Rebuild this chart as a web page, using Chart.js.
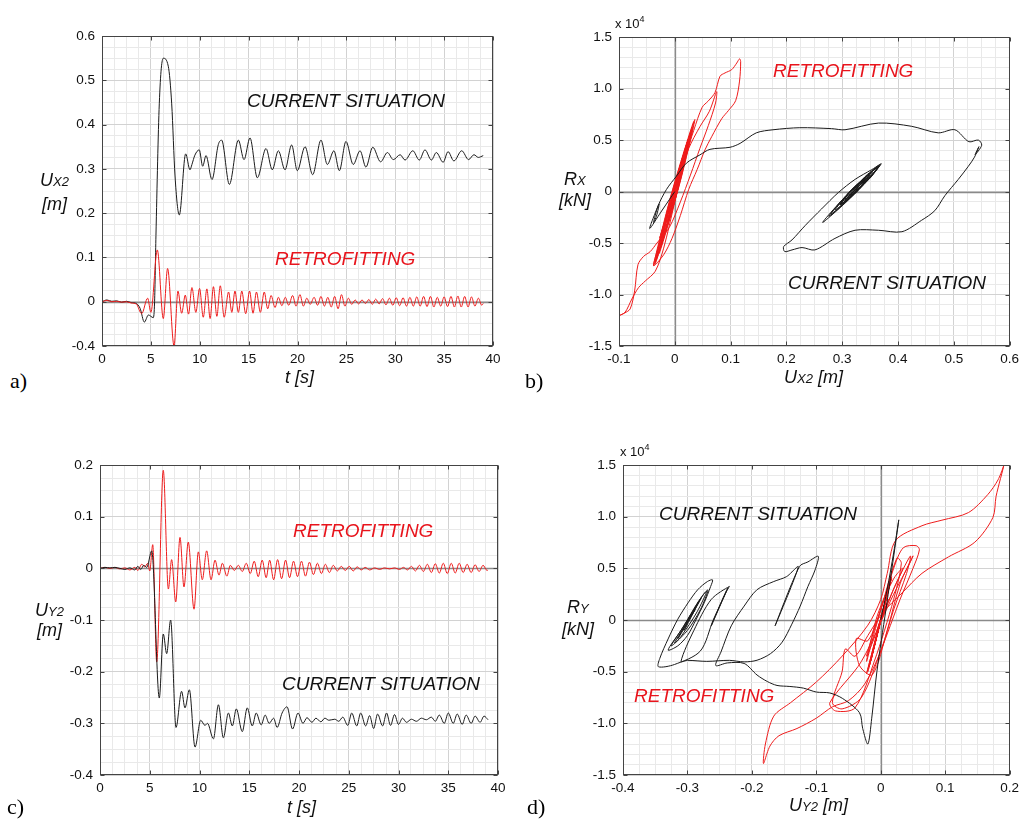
<!DOCTYPE html>
<html>
<head>
<meta charset="utf-8">
<script src="https://cdn.jsdelivr.net/npm/chart.js@4.4.0/dist/chart.umd.min.js"></script>
<style>
body{margin:0;background:#fff;width:1024px;height:823px;position:relative;overflow:hidden;font-family:"Liberation Sans",Arial,sans-serif;}
canvas{position:absolute;}
.t{position:absolute;white-space:nowrap;line-height:1;font-style:italic;color:#111;}
.note{font-size:19px;}
.red{color:#e8141c;}
.ax{font-size:18px;}
.ax small{font-size:13px;}
.let{position:absolute;font-family:"Liberation Serif","Times New Roman",serif;font-size:22px;line-height:1;color:#000;}
.mul{position:absolute;font-size:13px;line-height:1;color:#111;}
.mul sup{font-size:9px;vertical-align:6px;}
</style>
</head>
<body>
<canvas id="ca"></canvas>
<canvas id="cb"></canvas>
<canvas id="cc"></canvas>
<canvas id="cd"></canvas>

<div class="t note" style="left:247px;top:91px">CURRENT SITUATION</div>
<div class="t note red" style="left:275px;top:249px">RETROFITTING</div>
<div class="t note red" style="left:773px;top:61px">RETROFITTING</div>
<div class="t note" style="left:788px;top:273px">CURRENT SITUATION</div>
<div class="t note red" style="left:293px;top:521px">RETROFITTING</div>
<div class="t note" style="left:282px;top:674px">CURRENT SITUATION</div>
<div class="t note" style="left:659px;top:504px">CURRENT SITUATION</div>
<div class="t note red" style="left:634px;top:686px">RETROFITTING</div>

<div class="t ax" style="left:40px;top:171px">U<small>X2</small></div>
<div class="t ax" style="left:42px;top:195px">[m]</div>
<div class="t ax" style="left:285px;top:368px">t [s]</div>
<div class="t ax" style="left:564px;top:170px">R<small>X</small></div>
<div class="t ax" style="left:559px;top:191px">[kN]</div>
<div class="t ax" style="left:784px;top:368px">U<small>X2</small> [m]</div>
<div class="t ax" style="left:35px;top:601px">U<small>Y2</small></div>
<div class="t ax" style="left:37px;top:621px">[m]</div>
<div class="t ax" style="left:287px;top:798px">t [s]</div>
<div class="t ax" style="left:567px;top:598px">R<small>Y</small></div>
<div class="t ax" style="left:562px;top:620px">[kN]</div>
<div class="t ax" style="left:789px;top:796px">U<small>Y2</small> [m]</div>

<div class="mul" style="left:615px;top:15px">x 10<sup>4</sup></div>
<div class="mul" style="left:620px;top:443px">x 10<sup>4</sup></div>

<div class="let" style="left:10px;top:370px">a)</div>
<div class="let" style="left:525px;top:370px">b)</div>
<div class="let" style="left:7px;top:796px">c)</div>
<div class="let" style="left:527px;top:796px">d)</div>

<script>
// ---- tick values and labels ----
const timeTicks = [0, 5, 10, 15, 20, 25, 30, 35, 40];
const timeLabels = ['0', '5', '10', '15', '20', '25', '30', '35', '40'];
const aYTicks = [-0.1, 0, 0.1, 0.2, 0.3, 0.4, 0.5, 0.6];
const aYLabels = ['-0.4', '0', '0.1', '0.2', '0.3', '0.4', '0.5', '0.6'];
const bXTicks = [-0.1, 0, 0.1, 0.2, 0.3, 0.4, 0.5, 0.6];
const bXLabels = ['-0.1', '0', '0.1', '0.2', '0.3', '0.4', '0.5', '0.6'];
const forceTicks = [-1.5, -1, -0.5, 0, 0.5, 1, 1.5];
const forceLabels = ['-1.5', '-1.0', '-0.5', '0', '0.5', '1.0', '1.5'];
const cYTicks = [-0.4, -0.3, -0.2, -0.1, 0, 0.1, 0.2];
const cYLabels = ['-0.4', '-0.3', '-0.2', '-0.1', '0', '0.1', '0.2'];
const dXTicks = [-0.4, -0.3, -0.2, -0.1, 0, 0.1, 0.2];
const dXLabels = ['-0.4', '-0.3', '-0.2', '-0.1', '0', '0.1', '0.2'];

// ---- a) Ux2 time history [s, m] ----
const aCurT = [0,0.5,1,1.5,2,2.5,3,3.5,3.9,4.33,4.75,5.25,5.38,5.52,5.86,6.27,6.78,7.13,7.47,7.91,8.56,9.0,9.2,9.5,9.95,10.3,10.64,11.25,11.9,12.24,13.03,13.95,14.53,15.14,15.89,16.78,17.42,18.04,18.72,19.4,19.98,20.77,21.55,22.4,23.05,23.73,24.28,24.96,25.7,26.4,27.0,27.7,28.5,29.2,29.8,30.5,31.0,31.8,32.46,33.04,33.7,34.2,34.9,35.4,36.0,36.8,37.5,38.05,38.5,39.0];
const aCurU = [0,0.004,0.001,0.002,-0.001,0.001,-0.002,-0.004,-0.015,-0.046,-0.030,-0.036,0.0,0.15,0.447,0.55,0.532,0.447,0.284,0.196,0.334,0.298,0.31,0.331,0.343,0.306,0.33,0.276,0.355,0.365,0.265,0.365,0.321,0.37,0.28,0.346,0.298,0.341,0.298,0.354,0.296,0.35,0.287,0.365,0.31,0.341,0.296,0.362,0.31,0.341,0.304,0.349,0.316,0.337,0.321,0.332,0.32,0.341,0.32,0.343,0.32,0.337,0.315,0.339,0.318,0.341,0.321,0.332,0.326,0.33];
const aRetT = [0,0.5,1,1.5,2,2.5,3,3.5,4.06,4.67,5.0,5.66,6.27,6.71,7.37,7.77,8.15,8.52,8.85,9.2,9.6,9.98,10.36,10.73,11.06,11.4,11.75,12.1,12.5,12.95,13.28,13.6,13.95,14.3,14.7,15.1,15.45,15.8,16.2,16.6,16.95,17.3,17.7,18.05,18.4,18.75,19.1,19.5,19.85,20.25,20.6,20.95,21.3,21.7,22.05,22.4,22.75,23.1,23.45,23.8,24.15,24.5,24.85,25.2,25.55,25.9,26.25,26.6,26.95,27.3,27.65,28.0,28.35,28.7,29.05,29.4,29.75,30.1,30.45,30.8,31.15,31.5,31.85,32.2,32.55,32.9,33.25,33.6,33.95,34.3,34.65,35.0,35.35,35.7,36.05,36.4,36.75,37.1,37.45,37.8,38.15,38.5,38.85,39.0];
const aRetU = [0,0.003,0,0.001,-0.001,0,-0.003,-0.005,-0.027,0.008,-0.024,0.117,-0.038,0.075,-0.1,0.024,-0.026,0.015,-0.028,0.032,-0.024,0.03,-0.035,0.029,-0.038,0.034,-0.033,0.036,-0.035,0.022,-0.024,0.024,-0.024,0.024,-0.027,0.024,-0.026,0.022,-0.024,0.022,-0.016,0.014,-0.013,0.01,-0.009,0.01,-0.008,0.014,-0.01,0.016,-0.01,0.008,-0.006,0.01,-0.008,0.012,-0.01,0.01,-0.012,0.012,-0.016,0.016,-0.01,0.008,-0.006,0.004,-0.005,0.004,-0.004,0.005,-0.006,0.006,-0.005,0.007,-0.007,0.008,-0.008,0.009,-0.009,0.009,-0.01,0.01,-0.01,0.011,-0.01,0.012,-0.011,0.012,-0.012,0.01,-0.01,0.011,-0.011,0.012,-0.012,0.013,-0.012,0.012,-0.012,0.011,-0.01,0.008,-0.008,-0.004];

// ---- b) Rx [x1e4 kN] vs Ux2 [m] ----
const bCurU = [0,-0.01,-0.025,-0.045,-0.036,-0.028,-0.033,-0.038,-0.03,-0.015,0.003,0.021,0.045,0.063,0.099,0.117,0.146,0.176,0.224,0.281,0.305,0.365,0.424,0.472,0.502,0.527,0.544,0.55,0.538,0.545,0.537,0.526,0.508,0.484,0.466,0.442,0.407,0.365,0.323,0.287,0.251,0.228,0.21,0.197,0.195,0.21,0.234,0.263,0.293,0.323,0.353,0.368,
  0.339,0.298,0.315,0.343,0.33,0.306,0.312,0.33,0.309,0.276,0.314,0.365,0.321,0.265,0.309,0.365,0.349,0.321,0.34,0.37,0.331,0.28,0.307,0.346,0.328,0.298,0.314,0.341,0.325,0.298,0.32,0.354,0.331,0.296,0.317,0.35,0.324,0.287,0.32,0.365,0.343,0.31,0.322,0.341,0.324,0.296,0.323,0.362,0.342,0.31,0.341,0.304,0.349,0.316,0.337,0.321,0.332,0.325];
const bCurR = [0,-0.08,-0.2,-0.36,-0.22,-0.12,-0.24,-0.3,-0.14,0.02,0.15,0.277,0.356,0.41,0.43,0.468,0.57,0.6,0.62,0.611,0.6,0.665,0.634,0.57,0.6,0.484,0.5,0.45,0.357,0.436,0.334,0.245,0.118,-0.04,-0.185,-0.28,-0.39,-0.376,-0.376,-0.455,-0.567,-0.544,-0.567,-0.583,-0.535,-0.47,-0.328,-0.169,-0.01,0.118,0.213,0.26,
  0.07,-0.12,0.0,0.125,0.025,-0.076,-0.01,0.055,-0.09,-0.24,0.0,0.245,-0.03,-0.3,-0.03,0.245,0.125,0.005,0.14,0.27,0.025,-0.22,-0.04,0.14,0.01,-0.12,0.0,0.115,0.0,-0.12,0.03,0.185,0.03,-0.13,0.02,0.165,-0.01,-0.18,0.03,0.245,0.095,-0.055,0.03,0.115,-0.01,-0.13,0.05,0.23,0.09,-0.055,0.115,-0.087,0.158,-0.02,0.09,0.005,0.065,0.03];
const bRetU = [0,-0.012,-0.027,-0.01,0.008,-0.008,-0.024,-0.01,0.007,0.019,0.034,0.049,0.06,0.072,0.081,0.09,0.102,0.111,0.116,0.118,0.116,0.109,0.096,0.084,0.066,0.054,0.04,0.025,0.01,-0.005,-0.02,-0.038,-0.03,-0.015,0.005,0.025,0.045,0.062,0.075,0.073,0.06,0.045,0.028,0.01,-0.01,-0.032,-0.044,-0.056,-0.066,-0.072,-0.08,-0.09,-0.099,-0.089,-0.077,-0.065,-0.053,-0.035,-0.02,0.0,0.015,
  0.024,0.002,-0.026,-0.008,0.015,-0.003,-0.028,-0.002,0.032,0.008,-0.024,-0.001,0.03,0.0015,-0.035,-0.007,0.029,0.0,-0.038,-0.006,0.034,0.0045,-0.033,-0.0025,0.036,0.0045,-0.035,-0.0095,0.022,0.002,-0.024,-0.003,0.024,0.003,-0.024,-0.003,0.024,0.0015,-0.027,-0.0045,0.024,0.002,-0.026,-0.005,0.022,0.002,-0.024,-0.004,0.022,
  -0.016,0.014,-0.013,0.01,-0.009,0.01,-0.008,0.014,-0.01,0.016,-0.01,0.008,-0.006,0.005,-0.002];
const bRetR = [0,-0.2,-0.45,-0.15,0.15,-0.12,-0.42,-0.14,0.118,0.34,0.595,0.818,0.88,0.961,1.12,1.152,1.184,1.248,1.289,1.264,1.073,0.882,0.786,0.707,0.532,0.404,0.213,0.022,-0.232,-0.455,-0.614,-0.72,-0.55,-0.25,0.1,0.42,0.63,0.78,0.97,0.86,0.64,0.42,0.16,-0.1,-0.35,-0.5,-0.583,-0.63,-0.71,-0.965,-1.14,-1.18,-1.203,-1.172,-1.044,-0.933,-0.869,-0.774,-0.55,-0.1,0.25,
  0.45,-0.05,-0.55,-0.125,0.3,-0.15,-0.6,0.01,0.62,0.06,-0.5,0.05,0.6,-0.04,-0.68,-0.05,0.58,-0.07,-0.72,-0.02,0.68,0.01,-0.66,0.02,0.7,0.0,-0.7,-0.125,0.45,-0.025,-0.5,-0.01,0.48,-0.01,-0.5,0.0,0.5,-0.025,-0.55,-0.025,0.5,-0.025,-0.55,-0.05,0.45,-0.025,-0.5,-0.025,0.45,
  -0.35,0.3,-0.28,0.2,-0.2,0.22,-0.18,0.3,-0.2,0.32,-0.2,0.16,-0.14,0.1,-0.03];

// ---- c) Uy2 time history [s, m] ----
const cCurT = [0,0.5,1,1.5,2,2.5,3,3.5,3.8,4.1,4.4,4.7,5.2,5.96,6.36,6.7,7.1,7.64,8.2,8.54,8.98,9.55,10.12,10.55,10.8,11.4,11.9,12.4,12.9,13.3,13.7,14.3,14.8,15.3,15.7,16.2,16.6,17.0,17.45,17.8,18.3,18.8,19.35,19.9,20.4,20.8,21.3,21.7,22.2,22.6,23.0,23.6,24.0,24.4,24.9,25.3,25.8,26.2,26.7,27.1,27.5,27.9,28.4,28.8,29.2,29.6,30.0,30.4,30.8,31.3,31.8,32.3,32.8,33.3,33.7,34.1,34.6,35.0,35.5,35.9,36.4,36.8,37.3,37.7,38.2,38.6,39.0];
const cCurU = [0,0.002,0.001,0.002,0,-0.002,0.001,-0.003,0.004,-0.002,0.006,0.002,0.034,-0.251,-0.127,-0.165,-0.1,-0.308,-0.238,-0.27,-0.235,-0.346,-0.294,-0.304,-0.30,-0.33,-0.264,-0.328,-0.28,-0.305,-0.272,-0.316,-0.27,-0.305,-0.28,-0.303,-0.284,-0.30,-0.29,-0.308,-0.28,-0.268,-0.311,-0.28,-0.30,-0.289,-0.298,-0.29,-0.297,-0.29,-0.294,-0.292,-0.296,-0.288,-0.304,-0.28,-0.305,-0.28,-0.305,-0.285,-0.31,-0.282,-0.305,-0.28,-0.304,-0.283,-0.302,-0.29,-0.298,-0.292,-0.296,-0.29,-0.293,-0.288,-0.296,-0.284,-0.3,-0.28,-0.3,-0.282,-0.302,-0.284,-0.3,-0.286,-0.298,-0.286,-0.293];
const cRetT = [0,0.5,1,1.5,2,2.5,3,3.5,3.8,4.2,4.5,4.8,5.0,5.3,5.7,6.36,6.87,7.2,7.61,8.04,8.44,8.87,9.45,9.88,10.28,10.72,11.16,11.56,11.96,12.3,12.75,13.1,13.5,13.9,14.3,14.7,15.1,15.5,15.9,16.3,16.7,17.05,17.45,17.85,18.25,18.65,19.05,19.45,19.85,20.25,20.65,21.05,21.45,21.85,22.25,22.65,23.05,23.45,23.85,24.25,24.65,25.05,25.45,25.85,26.25,26.65,27.1,27.6,28.1,28.6,29.1,29.6,30.1,30.5,30.9,31.3,31.7,32.1,32.5,32.9,33.3,33.7,34.1,34.5,34.9,35.3,35.7,36.1,36.5,36.9,37.3,37.7,38.1,38.5,38.9,39.0];
const cRetU = [0,0.002,0,0.002,-0.001,0.001,-0.003,0.002,-0.004,0.008,0.003,0.01,-0.005,0.046,-0.181,0.19,-0.04,0.017,-0.065,0.06,-0.036,0.051,-0.079,0.032,-0.022,0.034,-0.022,0.016,-0.013,0.01,-0.015,0.006,-0.004,0.006,-0.006,0.01,-0.01,0.014,-0.016,0.016,-0.018,0.016,-0.022,0.017,-0.02,0.016,-0.018,0.014,-0.016,0.014,-0.015,0.012,-0.012,0.01,-0.01,0.008,-0.008,0.006,-0.005,0.004,-0.004,0.004,-0.005,0.003,-0.003,0.002,-0.003,0.001,-0.002,0.001,-0.001,0.001,-0.002,0.002,-0.003,0.004,-0.005,0.006,-0.006,0.008,-0.008,0.009,-0.009,0.01,-0.01,0.01,-0.009,0.01,-0.008,0.008,-0.008,0.007,-0.006,0.006,-0.004,-0.003];

// ---- d) Ry [x1e4 kN] vs Uy2 [m] ----
const dCurU = [0,0.01,0.02,0.028,0.022,0.008,-0.006,-0.014,-0.02,-0.028,-0.033,-0.059,-0.079,-0.1,-0.12,-0.141,-0.161,-0.176,-0.192,-0.212,-0.238,-0.256,
  -0.248,-0.232,-0.212,-0.192,-0.166,-0.146,-0.128,-0.164,-0.126,-0.113,-0.097,-0.102,-0.113,-0.125,-0.138,-0.153,-0.171,-0.192,-0.212,-0.235,-0.27,-0.3,-0.31,
  -0.29,-0.263,-0.235,-0.24,-0.263,-0.245,-0.237,-0.26,-0.28,-0.32,-0.345,
  -0.343,-0.33,-0.315,-0.299,-0.284,-0.269,-0.261,-0.264,-0.274,-0.287,-0.3,-0.315,-0.33,
  -0.31,-0.29,-0.275,-0.268,-0.28,-0.3,-0.325,-0.305,-0.283,-0.27,-0.285,-0.31,-0.32,-0.3,-0.278,-0.285,-0.305,-0.315,-0.295,-0.28,-0.29,-0.305,-0.298,-0.288,-0.295];
const dCurR = [0,0.3,0.65,0.97,0.7,0.1,-0.5,-0.95,-1.2,-1.05,-0.897,-0.76,-0.706,-0.697,-0.659,-0.643,-0.633,-0.595,-0.532,-0.42,-0.415,-0.44,
  -0.31,-0.056,0.135,0.294,0.373,0.421,0.516,-0.056,0.52,0.563,0.617,0.484,0.325,0.135,-0.04,-0.214,-0.325,-0.389,-0.405,-0.39,-0.4,-0.39,-0.4,
  -0.1,0.2,0.325,0.28,-0.056,0.2,0.31,0.0,-0.3,-0.43,-0.452,
  -0.373,-0.183,0.008,0.167,0.294,0.373,0.389,0.325,0.167,0.0,-0.15,-0.25,-0.29,
  -0.1,0.1,0.25,0.29,0.1,-0.1,-0.25,-0.05,0.18,0.28,0.08,-0.16,-0.22,-0.02,0.22,0.15,-0.08,-0.18,0.05,0.2,0.08,-0.1,0.0,0.1,0.03];
const dRetU = [0,0.008,-0.004,0.012,-0.006,0.02,0.046,0.04,0.02,0.0,-0.025,-0.05,-0.075,-0.1,-0.13,-0.158,-0.172,-0.182,-0.179,-0.166,-0.14,-0.1,-0.06,-0.02,0.0,0.01,0.023,0.064,0.095,0.136,0.166,0.182,0.191,0.179,0.174,0.146,0.105,0.064,0.033,0.003,-0.02,-0.04,
  -0.055,-0.06,-0.075,-0.06,-0.03,0.0,0.03,0.05,0.06,0.055,0.035,0.02,0.0,-0.02,-0.038,-0.033,-0.013,0.01,0.03,0.05,0.045,0.02,-0.03,-0.079,-0.07,-0.04,-0.01,0.02,0.032,0.025,0.0,-0.022,-0.005,0.02,0.034,0.02,-0.022,
  0.016,-0.013,0.01,-0.015,0.006,-0.004,0.006,-0.006,0.01,-0.01,0.014,-0.016,0.016,-0.018,0.016,-0.022,0.017,-0.02,0.016,-0.018,0.014,-0.016,0.012,-0.01,0.006,-0.004,0.002];
const dRetR = [0,0.12,-0.06,0.2,-0.1,0.3,0.62,0.45,0.1,-0.3,-0.62,-0.78,-0.84,-0.95,-1.05,-1.12,-1.22,-1.389,-1.2,-0.93,-0.8,-0.6,-0.35,-0.05,0.2,0.45,0.77,0.913,0.967,1.04,1.214,1.357,1.5,1.198,0.992,0.754,0.611,0.452,0.262,0.071,-0.15,-0.35,
  -0.28,-0.5,-0.8,-0.86,-0.75,-0.3,0.2,0.5,0.68,0.72,0.7,0.5,0.1,-0.2,-0.18,-0.44,-0.53,-0.1,0.35,0.62,0.55,0.25,-0.4,-0.8,-0.88,-0.85,-0.4,0.2,0.55,0.6,0.1,-0.4,0.05,0.4,0.5,0.3,-0.35,
  0.4,-0.33,0.26,-0.39,0.15,-0.1,0.15,-0.15,0.25,-0.25,0.35,-0.4,0.4,-0.45,0.4,-0.52,0.42,-0.5,0.4,-0.45,0.35,-0.4,0.3,-0.25,0.15,-0.08,0.04];

// ---- helpers ----
const FONT = '"Liberation Sans", Arial, sans-serif';
const BLACK = '#1b1b1b';
const RED = '#ee1c1c';

function xy(xs, ys) {
  return xs.map((v, i) => ({ x: v, y: ys[i] }));
}

function withMinor(majors, n) {
  const out = [];
  for (let i = 0; i < majors.length - 1; i++) {
    const step = (majors[i + 1] - majors[i]) / n;
    for (let k = 0; k < n; k++) out.push(Math.round((majors[i] + k * step) * 1e6) / 1e6);
  }
  out.push(majors[majors.length - 1]);
  return out;
}

function isMajor(v, majors) {
  return majors.some(m => Math.abs(m - v) < 1e-7);
}

function axis(dir, majors, labels, minorN, size) {
  const all = withMinor(majors, minorN);
  return {
    type: 'linear',
    min: majors[0],
    max: majors[majors.length - 1],
    afterBuildTicks: s => { s.ticks = all.map(v => ({ value: v })); },
    afterFit: s => { if (dir === 'x') s.height = size; else s.width = size; },
    border: { display: false },
    grid: {
      drawTicks: false,
      color: c => isMajor(c.tick ? c.tick.value : NaN, majors) ? '#d2d2d2' : '#e9e9e9'
    },
    ticks: {
      autoSkip: false,
      maxRotation: 0,
      padding: dir === 'x' ? 5 : 7,
      color: '#111',
      font: { family: FONT, size: 13.5 },
      callback: v => {
        const i = majors.findIndex(m => Math.abs(m - v) < 1e-7);
        return i >= 0 ? labels[i] : '';
      }
    }
  };
}

// zero lines under the data, box with inward tick marks on top
const framePlugin = {
  id: 'frame',
  beforeDatasetsDraw(chart, args, opts) {
    const { ctx, chartArea: a, scales } = chart;
    ctx.save();
    ctx.strokeStyle = '#8a8a8a';
    ctx.lineWidth = 1.3;
    ctx.beginPath();
    if (opts.zeroX) {
      const p = Math.round(scales.x.getPixelForValue(0)) + 0.5;
      ctx.moveTo(p, a.top); ctx.lineTo(p, a.bottom);
    }
    if (opts.zeroY) {
      const p = Math.round(scales.y.getPixelForValue(0)) + 0.5;
      ctx.moveTo(a.left, p); ctx.lineTo(a.right, p);
    }
    ctx.stroke();
    ctx.restore();
  },
  afterDatasetsDraw(chart, args, opts) {
    const { ctx, chartArea: a, scales } = chart;
    const L = Math.round(a.left) + 0.5, R = Math.round(a.right) - 0.5;
    const T = Math.round(a.top) + 0.5, B = Math.round(a.bottom) - 0.5;
    ctx.save();
    ctx.strokeStyle = '#444';
    ctx.lineWidth = 1;
    ctx.strokeRect(L, T, R - L, B - T);
    ctx.beginPath();
    opts.xMajor.forEach(v => {
      const p = Math.round(scales.x.getPixelForValue(v)) + 0.5;
      ctx.moveTo(p, B); ctx.lineTo(p, B - 4);
      ctx.moveTo(p, T); ctx.lineTo(p, T + 4);
    });
    opts.yMajor.forEach(v => {
      const p = Math.round(scales.y.getPixelForValue(v)) + 0.5;
      ctx.moveTo(L, p); ctx.lineTo(L + 4, p);
      ctx.moveTo(R, p); ctx.lineTo(R - 4, p);
    });
    ctx.stroke();
    ctx.restore();
  }
};

function panel(id, area, xa, ya, sets, smooth) {
  const padL = 60, padT = 10, padB = 34;
  const padR = Math.min(14, 1024 - area[2]);
  const cv = document.getElementById(id);
  cv.width = area[2] - area[0] + padL + padR;
  cv.height = area[3] - area[1] + padT + padB;
  cv.style.left = (area[0] - padL) + 'px';
  cv.style.top = (area[1] - padT) + 'px';
  new Chart(cv, {
    type: 'scatter',
    data: {
      datasets: sets.map(s => ({
        data: s.data,
        showLine: true,
        borderColor: s.color,
        borderWidth: 1,
        pointRadius: 0,
        fill: false,
        tension: smooth ? 0.4 : 0.3,
        cubicInterpolationMode: smooth ? 'monotone' : 'default'
      }))
    },
    options: {
      responsive: false,
      animation: false,
      layout: { padding: { top: padT, right: padR, left: 0, bottom: 0 } },
      plugins: {
        legend: { display: false },
        tooltip: { enabled: false },
        frame: { xMajor: xa.majors, yMajor: ya.majors, zeroX: xa.zero, zeroY: ya.zero }
      },
      scales: {
        x: axis('x', xa.majors, xa.labels, xa.minor, padB),
        y: axis('y', ya.majors, ya.labels, ya.minor, padL)
      }
    },
    plugins: [framePlugin]
  });
}

// a)
panel('ca', [102, 31, 493, 346],
  { majors: timeTicks, labels: timeLabels, minor: 4, zero: false },
  { majors: aYTicks, labels: aYLabels, minor: 4, zero: true },
  [{ data: xy(aRetT, aRetU), color: RED }, { data: xy(aCurT, aCurU), color: BLACK }], true);

// b)
panel('cb', [619, 32, 1010, 346],
  { majors: bXTicks, labels: bXLabels, minor: 4, zero: true },
  { majors: forceTicks, labels: forceLabels, minor: 5, zero: true },
  [{ data: xy(bCurU, bCurR), color: BLACK }, { data: xy(bRetU, bRetR), color: RED }], false);

// c)
panel('cc', [100, 460, 498, 775],
  { majors: timeTicks, labels: timeLabels, minor: 4, zero: false },
  { majors: cYTicks, labels: cYLabels, minor: 4, zero: true },
  [{ data: xy(cCurT, cCurU), color: BLACK }, { data: xy(cRetT, cRetU), color: RED }], true);

// d)
panel('cd', [623, 460, 1014, 775],
  { majors: dXTicks, labels: dXLabels, minor: 4, zero: true },
  { majors: forceTicks, labels: forceLabels, minor: 5, zero: true },
  [{ data: xy(dCurU, dCurR), color: BLACK }, { data: xy(dRetU, dRetR), color: RED }], false);
</script>
</body>
</html>
